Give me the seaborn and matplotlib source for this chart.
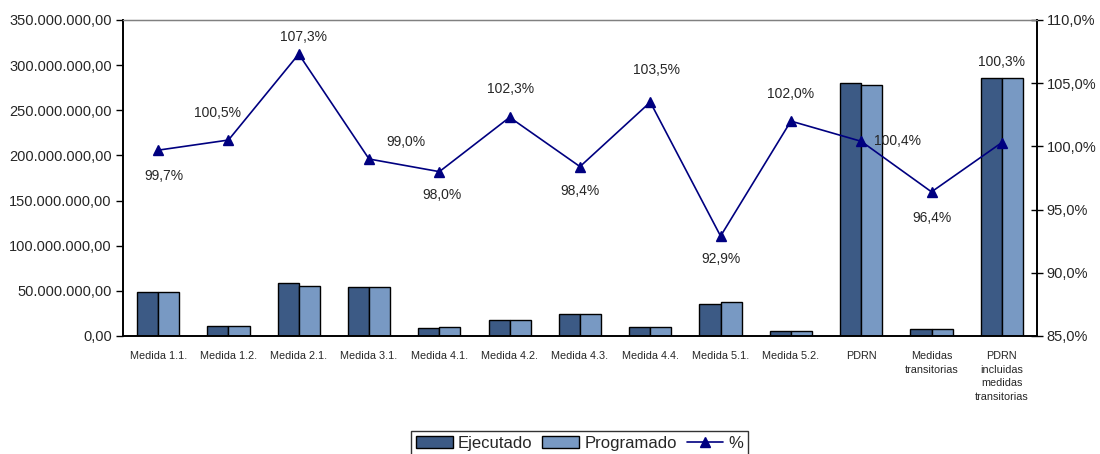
import pandas as pd
import matplotlib
matplotlib.use("Agg")
import matplotlib.pyplot as plt
import matplotlib.ticker as mticker
from matplotlib.patches import Patch
from matplotlib.lines import Line2D
import seaborn as sns

# datos
medidas = ["Medida 1.1.", "Medida 1.2.", "Medida 2.1.", "Medida 3.1.", "Medida 4.1.",
           "Medida 4.2.", "Medida 4.3.", "Medida 4.4.", "Medida 5.1.", "Medida 5.2.",
           "PDRN", "Medidas\ntransitorias", "PDRN\nincluidas\nmedidas\ntransitorias"]
ejecutado = [48.7e6, 11.4e6, 58.7e6, 54.3e6, 8.9e6, 17.7e6, 24.7e6, 10.0e6,
             35.0e6, 5.5e6, 280.5e6, 7.4e6, 286.0e6]
programado = [48.5e6, 11.4e6, 55.7e6, 54.3e6, 10.3e6, 17.7e6, 24.7e6, 10.0e6,
              38.0e6, 5.5e6, 278.3e6, 7.4e6, 286.0e6]
porcentaje = [99.7, 100.5, 107.3, 99.0, 98.0, 102.3, 98.4, 103.5, 92.9, 102.0, 100.4, 96.4, 100.3]
# desplazamiento de cada etiqueta (pixeles)
offsets = [(6, -26), (-11, 27), (5, 17), (37, 17), (3, -23), (1, 28), (0, -24),
           (6, 32), (0, -23), (0, 27), (36, 0), (0, -26), (0, 81)]

c_ej = "#3C5A85"
c_pr = "#7899C3"
c_line = "#000080"

sns.set_style("white")
plt.rcParams["font.family"] = ["Liberation Sans", "DejaVu Sans"]

df = pd.DataFrame({
    "medida": medidas * 2,
    "serie": ["Ejecutado"] * len(medidas) + ["Programado"] * len(medidas),
    "valor": ejecutado + programado,
})

fig = plt.figure(figsize=(11, 4.54), dpi=100)
ax = fig.add_axes([0.1118, 0.26, 0.8309, 0.696])

sns.barplot(data=df, x="medida", y="valor", hue="serie", ax=ax,
            palette={"Ejecutado": c_ej, "Programado": c_pr},
            width=0.6, gap=0, edgecolor="black", linewidth=1, saturation=1)
ax.get_legend().remove()
ax.set_xlim(-0.5, len(medidas) - 0.5)
ax.set_ylim(0, 350e6)
ax.set_xlabel("")
ax.set_ylabel("")
ax.yaxis.set_major_locator(mticker.MultipleLocator(50e6))


def fmt_eur(v, pos):
    s = f"{v:,.2f}"
    return s.replace(",", "X").replace(".", ",").replace("X", ".")


ax.yaxis.set_major_formatter(mticker.FuncFormatter(fmt_eur))
ax.tick_params(axis="y", labelsize=10.5, direction="out", length=5, width=1, color="black", pad=3)
ax.set_xticks(range(len(medidas)))
ax.set_xticklabels(medidas, fontsize=7.8, linespacing=1.45)
ax.set_xticks([i - 0.5 for i in range(len(medidas) + 1)], minor=True)
ax.tick_params(axis="x", which="major", length=0, pad=11)
ax.tick_params(axis="x", which="minor", length=8, direction="inout", width=1, color="black")
for t in ax.get_xticklabels():
    t.set_verticalalignment("top")

for side in ["left", "bottom", "right"]:
    ax.spines[side].set_color("black")
    ax.spines[side].set_linewidth(1.2)
ax.spines["top"].set_color("#808080")
ax.spines["top"].set_linewidth(1)

ax2 = ax.twinx()
ax2.plot(range(len(medidas)), porcentaje, color=c_line, lw=1.2, marker="^", ms=7.5)
ax2.set_ylim(85, 110)
ax2.yaxis.set_major_locator(mticker.MultipleLocator(5))
ax2.yaxis.set_major_formatter(mticker.FuncFormatter(lambda v, p: f"{v:.1f}%".replace(".", ",")))
ax2.tick_params(axis="y", labelsize=10.5, direction="inout", length=8, width=1, color="black", pad=3)
for side in ["left", "bottom", "right"]:
    ax2.spines[side].set_color("black")
    ax2.spines[side].set_linewidth(1.2)
ax2.spines["top"].set_color("#808080")

for i, (p, off) in enumerate(zip(porcentaje, offsets)):
    ax2.annotate(f"{p:.1f}%".replace(".", ","), (i, p), xytext=off,
                 textcoords="offset pixels", ha="center", va="center", fontsize=10)

handles = [Patch(facecolor=c_ej, edgecolor="black", label="Ejecutado"),
           Patch(facecolor=c_pr, edgecolor="black", label="Programado"),
           Line2D([0], [0], color=c_line, lw=1.2, marker="^", ms=7, label="%")]
leg = fig.legend(handles=handles, loc="upper center", bbox_to_anchor=(0.527, 0.053), ncol=3,
                 fontsize=12, frameon=True, fancybox=False, edgecolor="black",
                 handlelength=2.2, handletextpad=0.3, columnspacing=0.6, borderpad=0.3)
leg.set_bbox_to_anchor((0.527, 0.07), transform=fig.transFigure)
leg.get_frame().set_linewidth(1)

fig.savefig("out.png", dpi=100)
